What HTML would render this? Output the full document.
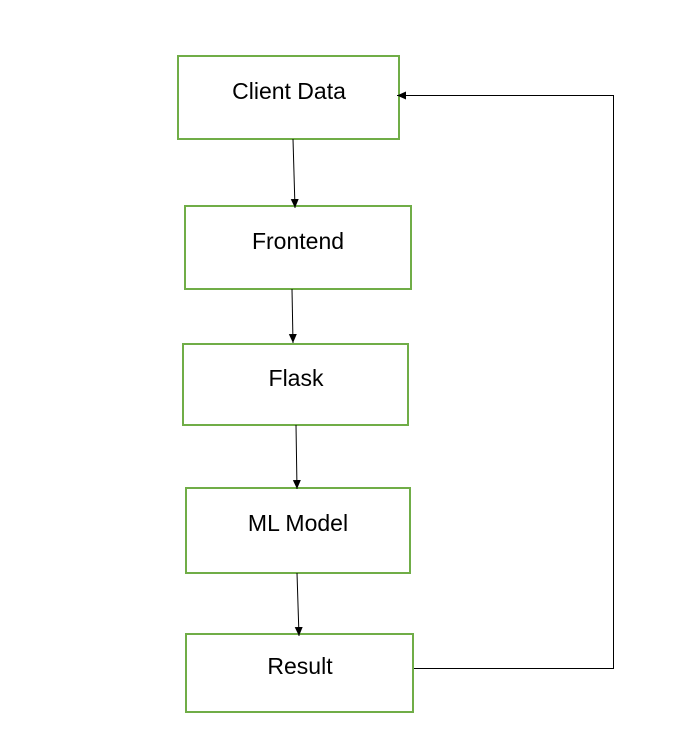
<!DOCTYPE html>
<html><head><meta charset="utf-8"><style>
html,body{margin:0;padding:0;background:#fff;}
svg{display:block}
text{font-family:"Liberation Sans",sans-serif;font-size:23px;fill:#000;text-anchor:middle}
</style></head><body>
<svg width="688" height="752" viewBox="0 0 688 752" xmlns="http://www.w3.org/2000/svg">
<defs><marker id="a" markerWidth="10" markerHeight="10" refX="9" refY="5" orient="auto" markerUnits="userSpaceOnUse"><path d="M0,1 L9,5 L0,9 z" fill="#000"/></marker></defs>
<g fill="#fff" stroke="#70ad47" stroke-width="2">
<rect x="178" y="56" width="221" height="83"/>
<rect x="185" y="206" width="226" height="83"/>
<rect x="183" y="344" width="225" height="81"/>
<rect x="186" y="488" width="224" height="85"/>
<rect x="186" y="634" width="227" height="78"/>
</g>
<g stroke="#000" stroke-width="1" fill="none">
<line x1="293" y1="139" x2="295" y2="208" marker-end="url(#a)"/>
<line x1="292" y1="289" x2="293" y2="343" marker-end="url(#a)"/>
<line x1="296" y1="425" x2="297" y2="489" marker-end="url(#a)"/>
<line x1="297" y1="573" x2="299" y2="636" marker-end="url(#a)"/>
<polyline points="414,668.5 613.5,668.5 613.5,95.5 397,95.5" marker-end="url(#a)"/>
</g>
<text x="289" y="99">Client Data</text>
<text x="298" y="249">Frontend</text>
<text x="296" y="386">Flask</text>
<text x="298" y="531">ML Model</text>
<text x="300" y="674">Result</text>
</svg>
</body></html>
